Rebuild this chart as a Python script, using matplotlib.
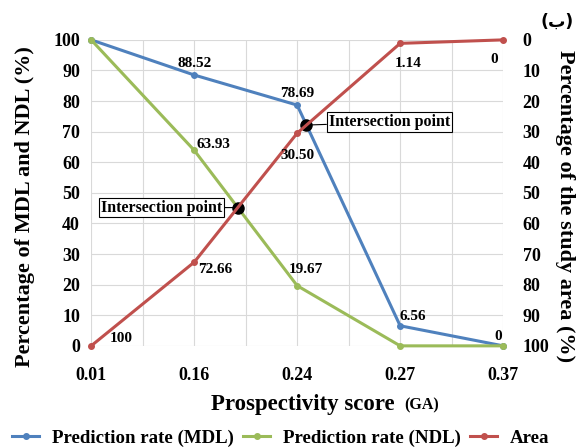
import numpy as np
import matplotlib
matplotlib.use("Agg")
import matplotlib.pyplot as plt

# ---- data ----
scores = ["0.01", "0.16", "0.24", "0.27", "0.37"]
mdl = [100, 88.52, 78.69, 6.56, 0]
ndl = [100, 63.93, 19.67, 0, 0]
area = [100, 72.66, 30.50, 1.14, 0]

BLUE, GREEN, RED = "#4F81BD", "#9BBB59", "#C0504D"
plt.rcParams["font.family"] = ["Liberation Serif", "DejaVu Sans"]
plt.rcParams["font.weight"] = "bold"


def crossing(ya, yb):
    """first crossing of two polylines on the category grid"""
    ya, yb = np.asarray(ya, float), np.asarray(yb, float)
    d = ya - yb
    for i in range(len(d) - 1):
        if d[i] == 0:
            continue
        if d[i] * d[i + 1] < 0:
            t = d[i] / (d[i] - d[i + 1])
            return i + t, ya[i] + t * (ya[i + 1] - ya[i])
    return None


x = np.arange(len(scores))
area_left = 100 - np.asarray(area)   # area on the inverted right axis, in left units

fig = plt.figure(figsize=(5.77, 4.48), dpi=100)
ax = fig.add_axes([0.158, 0.228, 0.714, 0.683])
ax2 = ax.twinx()

ax.set_xlim(0, 4)
ax.set_ylim(0, 100)
ax2.set_ylim(100, 0)
ax.set_yticks(range(0, 101, 10))
ax2.set_yticks(range(0, 101, 10))
ax.set_xticks(x)
ax.set_xticklabels(scores)
ax.set_xticks(np.arange(0.5, 4, 1), minor=True)
ax.tick_params(which="both", length=0)
ax.tick_params(axis="x", pad=15)
ax.tick_params(axis="y", pad=8)
ax2.tick_params(length=0, pad=14)
ax.grid(True, which="both", color="#D9D9D9", lw=0.8)
ax.set_axisbelow(True)
for a in (ax, ax2):
    for s in a.spines.values():
        s.set_visible(False)
for lab in ax.get_xticklabels() + ax.get_yticklabels() + ax2.get_yticklabels():
    lab.set_fontsize(13)
    lab.set_fontweight("bold")

l1, = ax.plot(x, mdl, "-o", color=BLUE, lw=2.2, ms=4, clip_on=False, zorder=3,
              label="Prediction rate (MDL)")
l2, = ax.plot(x, ndl, "-o", color=GREEN, lw=2.2, ms=4, clip_on=False, zorder=3,
              label="Prediction rate (NDL)")
l3, = ax2.plot(x, area, "-o", color=RED, lw=2.2, ms=4, clip_on=False, zorder=3,
               label="Area")

lab_kw = dict(textcoords="offset points", fontsize=11, fontweight="bold",
              ha="center", va="center")
# MDL labels
ax.annotate("88.52", (1, mdl[1]), xytext=(0, 8), **lab_kw)
ax.annotate("78.69", (2, mdl[2]), xytext=(0, 8.6), **lab_kw)
ax.annotate("6.56", (3, mdl[3]), xytext=(9.4, 6.5), **lab_kw)
ax.annotate("0", (4, mdl[4]), xytext=(-3.6, 6.5), **lab_kw)
# NDL labels
ax.annotate("63.93", (1, ndl[1]), xytext=(13.7, 4.3), **lab_kw)
ax.annotate("19.67", (2, ndl[2]), xytext=(6.5, 11.5), **lab_kw)
# Area labels
ax2.annotate("100", (0, area[0]), xytext=(21.6, 5), **lab_kw)
ax2.annotate("72.66", (1, area[1]), xytext=(15, -5), **lab_kw)
ax2.annotate("30.50", (2, area[2]), xytext=(0, -15.8), **lab_kw)
ax2.annotate("1.14", (3, area[3]), xytext=(5.8, -14.4), **lab_kw)
ax2.annotate("0", (4, area[4]), xytext=(-6.5, -14.4), **lab_kw)

# intersection points (computed from the series)
box = dict(boxstyle="square,pad=0.12", fc="white", ec="black", lw=0.8)
p1 = crossing(ndl, area_left)
p2 = crossing(mdl, area_left)
for (px, py), off, ha in ((p1, (-11, 0), "right"), (p2, (16, 2), "left")):
    ax.plot(px, py, "o", color="black", ms=8, zorder=5)
    ax.annotate("Intersection point", (px, py), xytext=off, textcoords="offset points",
                ha=ha, va="center", fontsize=11.5, fontweight="bold", bbox=box,
                arrowprops=dict(arrowstyle="-", color="black", lw=0.8,
                                shrinkA=0, shrinkB=0), zorder=6)

fig.text(0.043, 0.54, "Percentage of MDL and NDL (%)", rotation=90,
         ha="center", va="center", fontsize=16, fontweight="bold")
fig.text(0.979, 0.54, "Percentage of the study area (%)", rotation=270,
         ha="center", va="center", fontsize=16, fontweight="bold")
fig.text(0.684, 0.097, "Prospectivity score", ha="right", va="center",
         fontsize=16.5, fontweight="bold")
fig.text(0.700, 0.094, "(GA)", ha="left", va="center", fontsize=11.5,
         fontweight="bold")
fig.text(0.966, 0.951, "(ب)", ha="center", va="center", fontsize=12.5,
         family="DejaVu Sans", fontweight="bold")

fig.legend(handles=[l1, l2, l3], loc="center", bbox_to_anchor=(0.487, 0.022),
           ncol=3, frameon=False, handlelength=1.4, columnspacing=0.5,
           handletextpad=0.7, prop={"weight": "bold", "size": 13.6})

fig.savefig("out.png", dpi=100)
